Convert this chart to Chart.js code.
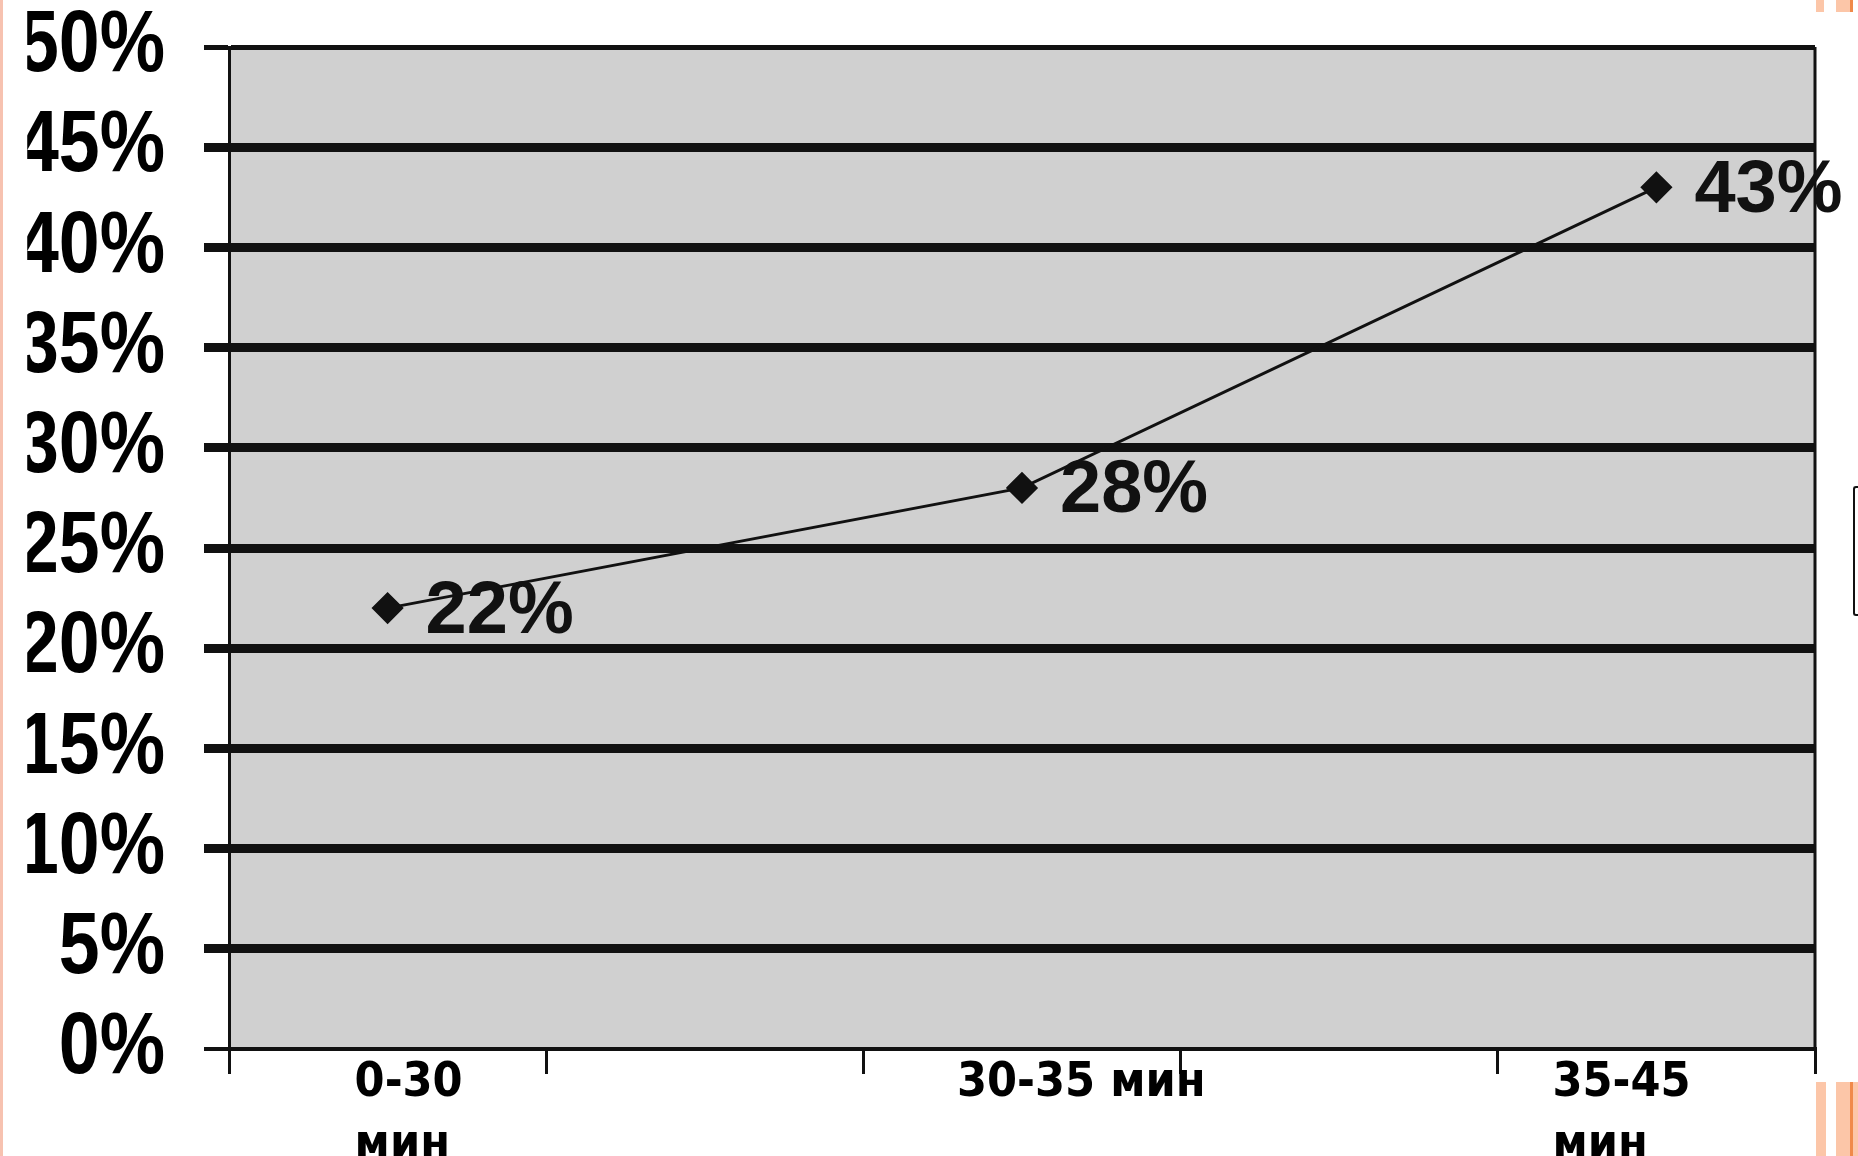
<!DOCTYPE html>
<html>
<head>
<meta charset="utf-8">
<script src="https://cdn.jsdelivr.net/npm/chart.js@4"></script>
<style>
  html, body { margin: 0; padding: 0; background: #ffffff; }
  #wrap { position: relative; width: 1858px; height: 1156px; overflow: hidden; background: #ffffff; }
  canvas { position: absolute; left: 0; top: 0; }
  .deco { position: absolute; }
</style>
</head>
<body>
<div id="wrap">
  <canvas id="c" width="1858" height="1156"></canvas>
  <div class="deco" style="left:0;top:0;width:3px;height:1156px;background:#f7c2b0;"></div>
  <div class="deco" style="left:1816px;top:0;width:8px;height:12px;background:#fcc6a8;"></div>
  <div class="deco" style="left:1836px;top:0;width:14px;height:12px;background:#fcc6a8;"></div>
  <div class="deco" style="left:1850px;top:0;width:3px;height:12px;background:#f08a4a;"></div>
  <div class="deco" style="left:1816px;top:1082px;width:10px;height:74px;background:#fcc6a8;"></div>
  <div class="deco" style="left:1836px;top:1082px;width:22px;height:74px;background:#fcc6a8;"></div>
  <div class="deco" style="left:1850px;top:1082px;width:3px;height:74px;background:#f08a4a;"></div>
  <div class="deco" style="left:1853px;top:486px;width:6px;height:130px;border:2px solid #111;border-right:none;border-radius:3px 0 0 3px;box-sizing:border-box;"></div>
</div>
<script>
// ---- data ----
const categories = [['0-30', 'мин'], '', '30-35 мин', '', ['35-45', 'мин']];
const values = [22, null, 28, null, 43];
const yTicks = [0, 5, 10, 15, 20, 25, 30, 35, 40, 45, 50];
const yTickLabels = ['0%', '5%', '10%', '15%', '20%', '25%', '30%', '35%', '40%', '45%', '50%'];

// style: horizontal nudge of each category label (left-aligned text boxes as on the slide)
const xLabelNudge = [-33, 0, -65, 0, -104];

// y axis with horizontally condensed labels (narrow bold face look)
class CondensedLinear extends Chart.LinearScale {
  drawLabels(chartArea) {
    const ctx = this.ctx;
    const x0 = this.right - this.options.grid.tickLength - this.options.ticks.padding;
    ctx.save();
    ctx.translate(x0, 0);
    ctx.scale(0.835, 1);
    ctx.translate(-x0, 0);
    super.drawLabels(chartArea);
    ctx.restore();
  }
}
CondensedLinear.id = 'condensedLinear';
CondensedLinear.defaults = Chart.LinearScale.defaults;

// category axis whose labels are left-aligned text boxes
class BoxCategory extends Chart.CategoryScale {
  _computeLabelItems(chartArea) {
    const items = super._computeLabelItems(chartArea);
    items.forEach((it, i) => {
      const n = xLabelNudge[i] || 0;
      it.options.translation = [it.options.translation[0] + n, it.options.translation[1]];
      it.options.textAlign = 'left';
    });
    return items;
  }
}
BoxCategory.id = 'boxCategory';
BoxCategory.defaults = Chart.CategoryScale.defaults;
Chart.register(CondensedLinear, BoxCategory);

const areaPlugin = {
  id: 'areaPlugin',
  beforeDraw(chart) {
    const a = chart.chartArea, ctx = chart.ctx;
    ctx.save();
    ctx.fillStyle = '#d0d0d0';
    ctx.fillRect(a.left, a.top, a.right - a.left, a.bottom - a.top);
    ctx.restore();
  },
  beforeDatasetsDraw(chart) {
    const a = chart.chartArea, ctx = chart.ctx;
    ctx.save();
    ctx.strokeStyle = '#111';
    ctx.lineWidth = 3;
    ctx.beginPath();
    ctx.moveTo(a.right, a.top);
    ctx.lineTo(a.right, a.bottom);
    ctx.stroke();
    ctx.restore();
  },
  afterDatasetsDraw(chart) {
    const ctx = chart.ctx;
    const meta = chart.getDatasetMeta(0);
    ctx.save();
    ctx.fillStyle = '#111';
    ctx.font = 'bold 74px "Liberation Sans", Arial, sans-serif';
    ctx.textAlign = 'left';
    ctx.textBaseline = 'middle';
    meta.data.forEach((pt, i) => {
      const v = values[i];
      if (v === null) return;
      ctx.fillText(v + '%', pt.x + 38, pt.y + 4);
    });
    ctx.restore();
  }
};

new Chart(document.getElementById('c'), {
  type: 'line',
  data: {
    labels: categories,
    datasets: [{
      data: values,
      spanGaps: true,
      borderColor: '#111',
      borderWidth: 3,
      pointStyle: 'rectRot',
      pointRadius: 14,
      pointBackgroundColor: '#111',
      pointBorderColor: '#111',
      tension: 0
    }]
  },
  options: {
    responsive: false,
    animation: false,
    events: [],
    layout: { padding: { top: 47, right: 43, left: 0, bottom: 0 } },
    plugins: { legend: { display: false }, tooltip: { enabled: false } },
    scales: {
      x: {
        type: 'boxCategory',
        offset: true,
        grid: {
          offset: true,
          drawOnChartArea: false,
          color: '#111',
          lineWidth: 3,
          tickLength: 25
        },
        border: { display: true, color: '#111', width: 4 },
        ticks: {
          color: '#000',
          padding: -22,
          autoSkip: false,
          maxRotation: 0,
          font: { family: '"DejaVu Sans Condensed", "DejaVu Sans", sans-serif', size: 48, weight: 'bold', lineHeight: 1.3 }
        },
        afterFit(scale) { scale.height = 107; }
      },
      y: {
        type: 'condensedLinear',
        min: 0,
        max: 50,
        afterBuildTicks(scale) { scale.ticks = yTicks.map(v => ({ value: v })); },
        grid: {
          color: '#111',
          lineWidth: (c) => c.tick && c.tick.value === 50 ? 5 : (c.tick && c.tick.value === 0 ? 4 : 9),
          tickLength: 25
        },
        border: { display: true, color: '#111', width: 3 },
        ticks: {
          color: '#000',
          padding: 39,
          autoSkip: false,
          callback: (v) => yTickLabels[yTicks.indexOf(v)],
          font: { family: '"Liberation Sans", Arial, sans-serif', size: 88, weight: 'bold' }
        },
        afterFit(scale) {
          scale.width = 229;
          scale.paddingTop = 0;
          scale.paddingBottom = 0;
        }
      }
    }
  },
  plugins: [areaPlugin]
});
</script>
</body>
</html>
